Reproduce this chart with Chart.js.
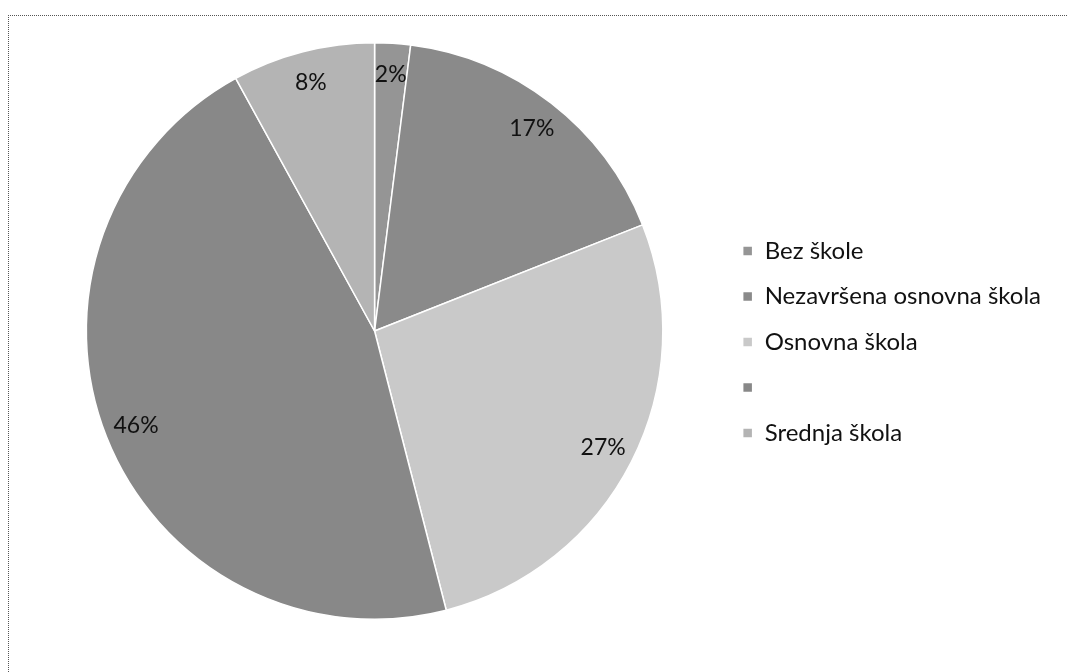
<!DOCTYPE html>
<html>
<head>
<meta charset="utf-8">
<script src="https://cdn.jsdelivr.net/npm/chart.js@4.4.0/dist/chart.umd.min.js"></script>
<style>
  body { margin: 0; background: #fff; }
  #frame {
    position: absolute; left: 8px; top: 15px; width: 1100px; height: 700px;
    border-left: 1px dotted #555; border-top: 1px dotted #555;
  }
  #wrap { position: absolute; left: 0; top: 0; width: 1068px; height: 672px; }
</style>
</head>
<body>
<div id="frame"></div>
<div id="wrap"><canvas id="chart"></canvas></div>
<script>
var categories = ['Bez škole', 'Nezavršena osnovna škola', 'Osnovna škola', '', 'Srednja škola'];
var percents = [2, 17, 27, 46, 8];
var sliceColors = ['#959595', '#8a8a8a', '#c9c9c9', '#888888', '#b4b4b4'];

// percent labels placed near the outer edge, like the original
var pctLabels = {
  id: 'pctLabels',
  afterDatasetsDraw: function(chart) {
    var ctx = chart.ctx;
    var meta = chart.getDatasetMeta(0);
    ctx.save();
    ctx.font = '23px Lato';
    ctx.fillStyle = '#111';
    ctx.textAlign = 'center';
    ctx.textBaseline = 'middle';
    meta.data.forEach(function(arc, i) {
      var p = arc.getProps(['x', 'y', 'startAngle', 'endAngle', 'outerRadius'], true);
      var mid = (p.startAngle + p.endAngle) / 2;
      var r = p.outerRadius * 0.89;
      ctx.fillText(percents[i] + '%', p.x + Math.cos(mid) * r, p.y + Math.sin(mid) * r);
    });
    ctx.restore();
  }
};

var config = {
  type: 'pie',
  data: {
    labels: categories,
    datasets: [{
      data: percents,
      backgroundColor: sliceColors,
      borderColor: '#fff',
      borderWidth: 1.5
    }]
  },
  options: {
    responsive: true,
    maintainAspectRatio: false,
    animation: false,
    layout: { padding: { left: 28, top: 42, bottom: 52, right: 17 } },
    plugins: {
      legend: {
        position: 'right',
        // empty title only pushes the items down a little
        title: { display: true, text: ' ', font: { size: 10 }, padding: 5 },
        labels: {
          boxWidth: 10,
          boxHeight: 10,
          padding: 21.5,
          color: '#111',
          font: { family: 'Lato', size: 24 }
        }
      },
      tooltip: { enabled: false }
    }
  },
  plugins: [pctLabels]
};
var ctx = document.getElementById('chart').getContext('2d');
var myPieChart = new Chart(ctx, config);
</script>
</body>
</html>
